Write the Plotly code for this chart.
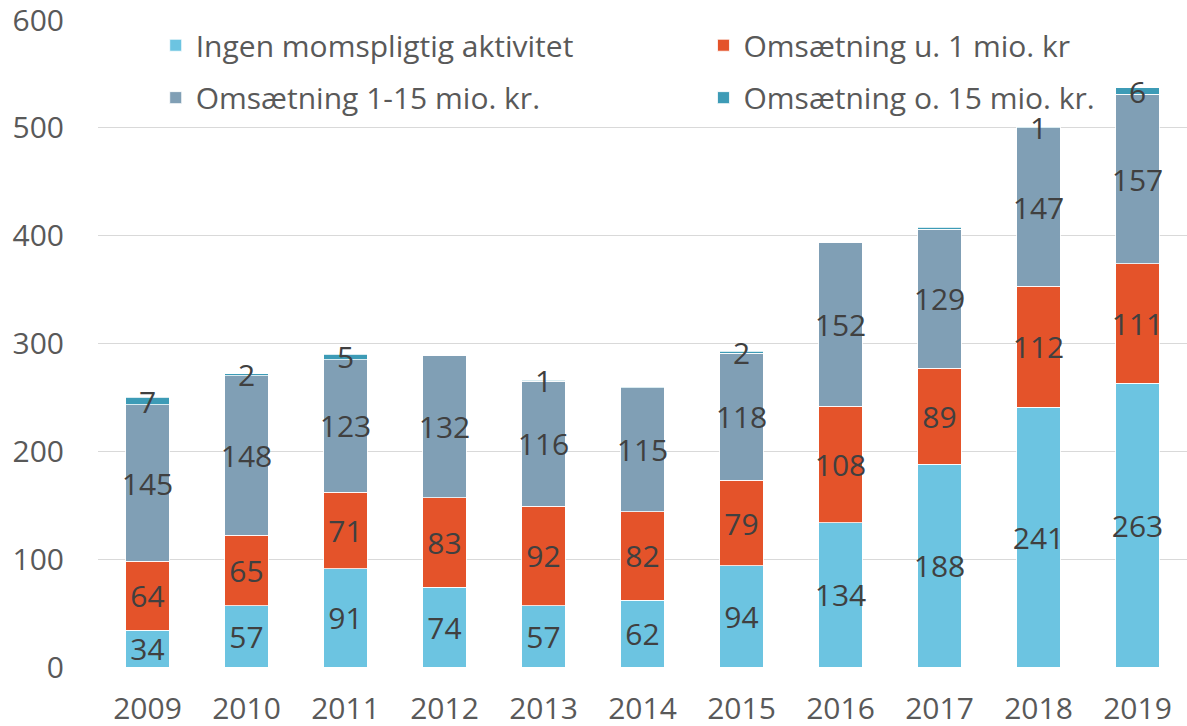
import plotly.graph_objects as go

years = ["2009", "2010", "2011", "2012", "2013", "2014", "2015", "2016", "2017", "2018", "2019"]
ingen = [34, 57, 91, 74, 57, 62, 94, 134, 188, 241, 263]
under1 = [64, 65, 71, 83, 92, 82, 79, 108, 89, 112, 111]
mid = [145, 148, 123, 132, 116, 115, 118, 152, 129, 147, 157]
over15 = [7, 2, 5, 0, 1, 1, 2, 0, 2, 1, 6]
over15_labels = ["7", "2", "5", "", "1", "", "2", "", "", "1", "6"]

names = ["Ingen momspligtig aktivitet", "Omsætning u. 1 mio. kr",
         "Omsætning 1-15 mio. kr.", "Omsætning o. 15 mio. kr."]
colors = ["#6CC4E1", "#E4532A", "#809FB5", "#3D9BB6"]
FONT = "Open Sans"
TXT = "#404040"
FS = 30

series = [ingen, under1, mid, over15]
texts = [[str(v) for v in ingen], [str(v) for v in under1], [str(v) for v in mid], over15_labels]
legends = ["legend", "legend2", "legend3", "legend4"]
# legend anchor positions (paper coords): two columns, two rows
leg_x = [0.053, 0.556, 0.053, 0.556]
leg_y = [0.961, 0.961, 0.880, 0.880]

fig = go.Figure()
for name, vals, col, txt, lg in zip(names, series, colors, texts, legends):
    fig.add_trace(go.Bar(
        x=years, y=vals, name=name, marker=dict(color=col, line=dict(color="white", width=0.8)),
        text=txt, textposition="inside", insidetextanchor="middle", textangle=0,
        constraintext="none", textfont=dict(family=FONT, size=FS, color=TXT),
        legend=lg, showlegend=True, hoverinfo="x+y+name",
    ))

leg_common = dict(orientation="h", font=dict(family=FONT, size=FS, color="#595959"),
                  bgcolor="rgba(0,0,0,0)", xanchor="left", yanchor="middle",
                  itemclick=False, visible=True)
legend_layout = {lg: dict(x=x, y=y, **leg_common) for lg, x, y in zip(legends, leg_x, leg_y)}

fig.update_layout(
    width=1187, height=726, showlegend=True,
    margin=dict(l=98, r=0, t=20, b=59),
    barmode="stack", bargap=0.56,
    plot_bgcolor="white", paper_bgcolor="white",
    font=dict(family=FONT, size=FS, color="#595959"),
    yaxis=dict(range=[0, 600], dtick=100, showgrid=True, gridcolor="#D9D9D9", gridwidth=1.2,
               zeroline=False, showline=False, ticks="", ticklabelstandoff=33, automargin=False,
               ticklabeloverflow="allow",
               tickfont=dict(family=FONT, size=FS, color="#595959")),
    xaxis=dict(type="category", showline=False, ticks="", ticklabelstandoff=21, automargin=False,
               ticklabeloverflow="allow",
               tickfont=dict(family=FONT, size=FS, color="#595959")),
    **legend_layout,
)
fig.write_html("out.html", config={"displayModeBar": False},
               post_script="document.body.style.margin='0';")
